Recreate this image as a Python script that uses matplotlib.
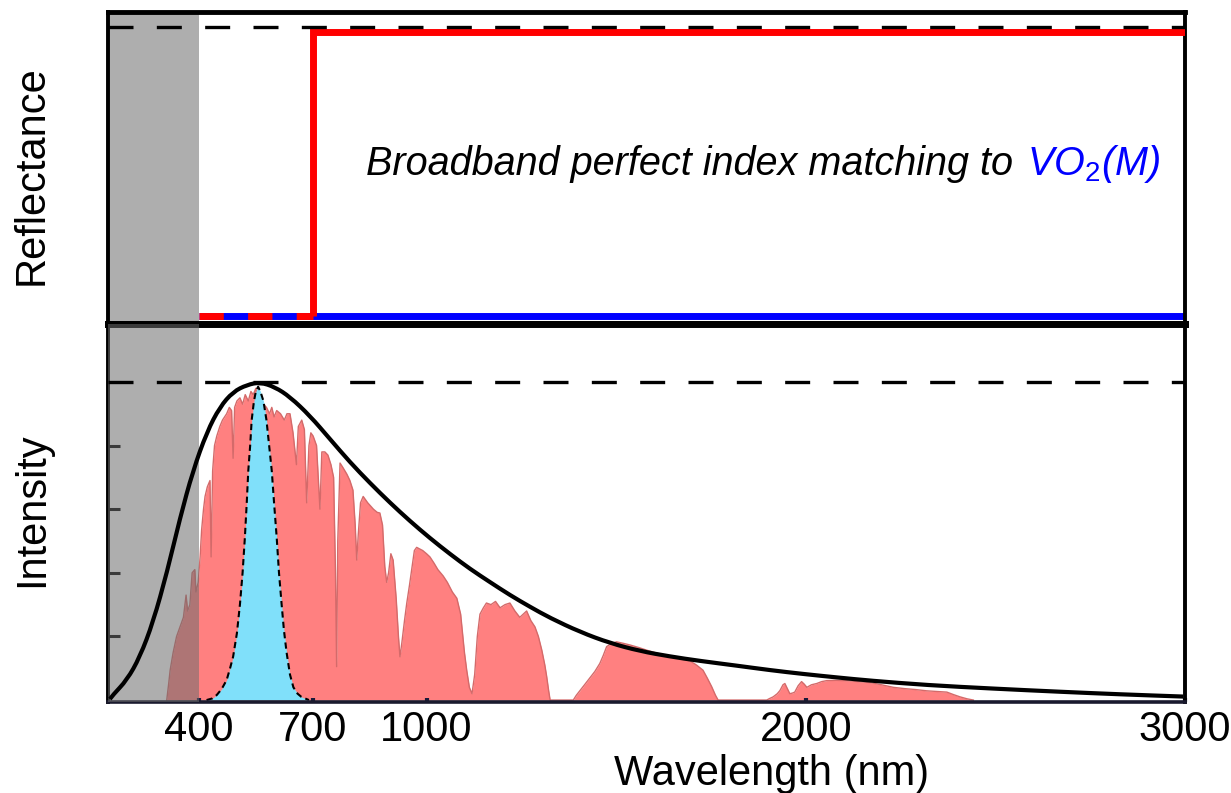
import matplotlib
matplotlib.use('Agg')
import matplotlib.pyplot as plt
from matplotlib.path import Path
from matplotlib.patches import PathPatch

plt.rcParams['font.family'] = ['Liberation Sans', 'DejaVu Sans']
plt.rcParams['mathtext.fontset'] = 'custom'
plt.rcParams['mathtext.rm'] = 'Liberation Sans'
plt.rcParams['mathtext.it'] = 'Liberation Sans:italic'

# wavelength axis (nm)
x_ticks = [400, 700, 1000, 2000, 3000]
uv_edge = 400

# reflectance panel
refl_blue_wl = [400, 3000]
refl_blue = [0.0, 0.0]
refl_red_vis_wl = [400, 700]
refl_red_vis = [0.0, 0.0]
refl_red_wl = [700, 700, 3000]
refl_red = [0.0, 0.985, 0.985]

# blackbody curve (normalised)
bb_wl = [165, 173, 210, 244, 279, 316, 350, 384, 421, 455, 490, 527, 561, 600,
         640, 693, 745, 798, 851, 904, 956, 1009, 1062, 1115, 1167, 1220, 1273,
         1326, 1405, 1484, 1563, 1642, 1721, 1819, 1906, 1993, 2083, 2170, 2320,
         2494, 2671, 2829, 2995]
bb_int = [0.003, 0.016, 0.063, 0.135, 0.245, 0.403, 0.572, 0.720, 0.843, 0.921,
          0.969, 0.991, 0.999, 0.984, 0.953, 0.893, 0.821, 0.748, 0.682, 0.620,
          0.563, 0.509, 0.459, 0.412, 0.371, 0.330, 0.293, 0.258, 0.214, 0.179,
          0.154, 0.137, 0.123, 0.108, 0.094, 0.082, 0.071, 0.061, 0.047, 0.036,
          0.026, 0.018, 0.011]

# solar spectrum (normalised)
sun_wl = [315, 320, 324, 332, 341, 350, 359, 366, 370, 376, 382, 389, 392, 398,
          403, 407, 412, 416, 422, 429, 432, 436, 441, 447, 455, 462, 473, 480,
          486, 490, 494, 500, 508, 515, 522, 530, 537, 543, 550, 556, 563, 570,
          578, 586, 592, 598, 605, 615, 625, 632, 640, 648, 657, 662, 671, 678,
          684, 690, 695, 701, 710, 719, 724, 732, 740, 748, 755, 760, 763, 766,
          772, 780, 790, 798, 806, 812, 816, 820, 826, 833, 845, 860, 870, 877,
          884, 890, 895, 900, 906, 912, 920, 926, 930, 935, 942, 948, 955, 962,
          968, 974, 982, 990, 1000, 1009, 1020, 1030, 1044, 1055, 1068, 1080,
          1090, 1100, 1106, 1113, 1120, 1127, 1134, 1141, 1150, 1158, 1170, 1182,
          1194, 1207, 1220, 1233, 1246, 1255, 1264, 1275, 1286, 1295, 1304, 1312,
          1317, 1322, 1326, 1387, 1395, 1405, 1418, 1431, 1444, 1457, 1466, 1475,
          1488, 1501, 1520, 1537, 1560, 1580, 1600, 1624, 1645, 1668, 1695, 1712,
          1729, 1740, 1752, 1762, 1769, 1897, 1905, 1914, 1925, 1932, 1940, 1945,
          1952, 1958, 1965, 1971, 1980, 1989, 1996, 2003, 2015, 2029, 2042, 2055,
          2080, 2108, 2140, 2169, 2200, 2231, 2260, 2290, 2319, 2345, 2372, 2390,
          2407, 2425, 2442]
sun_int = [0.0, 0.05, 0.094, 0.15, 0.20, 0.23, 0.26, 0.33, 0.28, 0.30, 0.40, 0.41,
           0.34, 0.37, 0.45, 0.535, 0.60, 0.64, 0.67, 0.69, 0.45, 0.72, 0.80, 0.83,
           0.86, 0.88, 0.90, 0.92, 0.91, 0.76, 0.92, 0.94, 0.95, 0.93, 0.96, 0.94,
           0.97, 0.96, 0.98, 0.93, 0.95, 0.93, 0.92, 0.90, 0.92, 0.89, 0.91, 0.90,
           0.88, 0.90, 0.90, 0.84, 0.74, 0.86, 0.88, 0.85, 0.62, 0.80, 0.84, 0.83,
           0.80, 0.60, 0.78, 0.78, 0.77, 0.74, 0.70, 0.40, 0.105, 0.50, 0.745,
           0.73, 0.71, 0.69, 0.66, 0.55, 0.44, 0.52, 0.62, 0.64, 0.62, 0.60, 0.59,
           0.588, 0.55, 0.42, 0.37, 0.40, 0.46, 0.44, 0.32, 0.20, 0.136, 0.18,
           0.25, 0.305, 0.36, 0.42, 0.47, 0.48, 0.475, 0.47, 0.46, 0.45, 0.43,
           0.41, 0.39, 0.37, 0.34, 0.32, 0.27, 0.15, 0.094, 0.04, 0.02, 0.08,
           0.20, 0.27, 0.29, 0.305, 0.30, 0.31, 0.29, 0.30, 0.305, 0.28, 0.26,
           0.27, 0.28, 0.25, 0.23, 0.20, 0.157, 0.11, 0.073, 0.03, 0.0, 0.0,
           0.015, 0.03, 0.05, 0.07, 0.09, 0.115, 0.14, 0.168, 0.178, 0.183, 0.178,
           0.173, 0.165, 0.157, 0.150, 0.142, 0.138, 0.130, 0.123, 0.11, 0.094,
           0.07, 0.042, 0.015, 0.0, 0.0, 0.005, 0.01, 0.02, 0.03, 0.048, 0.052,
           0.035, 0.02, 0.022, 0.025, 0.045, 0.058, 0.05, 0.04, 0.048, 0.052,
           0.058, 0.061, 0.062, 0.061, 0.058, 0.055, 0.048, 0.040, 0.036, 0.033,
           0.029, 0.027, 0.025, 0.017, 0.01, 0.004, 0.0]

# eye sensitivity (photopic)
eye_wl = [420, 435, 447, 460, 473, 482, 490, 500, 508, 515, 521, 526, 530, 535,
          539, 545, 550, 556, 562, 570, 578, 585, 592, 598, 605, 611, 618, 624,
          631, 640, 649, 660, 670, 690]
eye_int = [0.0, 0.005, 0.016, 0.035, 0.063, 0.10, 0.136, 0.21, 0.30, 0.40, 0.51,
           0.62, 0.72, 0.80, 0.88, 0.94, 0.97, 0.985, 0.97, 0.94, 0.88, 0.80,
           0.72, 0.62, 0.51, 0.40, 0.30, 0.22, 0.15, 0.08, 0.04, 0.02, 0.01, 0.0]


def smooth_path(xs, ys):
    # quadratic bezier through the midpoints, read points act as control points
    verts = [(xs[0], ys[0])]
    codes = [Path.MOVETO]
    for i in range(1, len(xs) - 1):
        mid = ((xs[i] + xs[i + 1]) / 2, (ys[i] + ys[i + 1]) / 2)
        verts += [(xs[i], ys[i]), mid]
        codes += [Path.CURVE3, Path.CURVE3]
    verts.append((xs[-1], ys[-1]))
    codes.append(Path.LINETO)
    return Path(verts, codes)


fig = plt.figure(figsize=(12.31, 7.93), dpi=100)
ax1 = fig.add_axes([0.0877, 0.5914, 0.8749, 0.3935])
ax2 = fig.add_axes([0.0877, 0.1148, 0.8749, 0.4766])

gray = '#6c6c6c'

# --- reflectance ---
ax1.axvspan(160, uv_edge, color=gray, alpha=0.55, lw=0, zorder=1)
ax1.axhline(1.0, color='k', lw=2.4, dashes=(7.5, 7), zorder=5)
ax1.plot(refl_blue_wl, refl_blue, color='#0000ff', lw=5, solid_capstyle='butt', zorder=2)
ax1.plot(refl_red_vis_wl, refl_red_vis, color='#ff0000', lw=5, dashes=(3.5, 3.5),
         dash_capstyle='butt', zorder=3)
ax1.plot(refl_red_wl, refl_red, color='#ff0000', lw=5, solid_joinstyle='miter',
         solid_capstyle='butt', zorder=3)
ax1.set_xlim(160, 3000)
ax1.set_ylim(-0.028, 1.053)
ax1.set_xticks([])
ax1.set_yticks([])
ax1.set_ylabel('Reflectance', fontsize=30)
ax1.yaxis.set_label_coords(-0.052, 0.478)

ax1.text(0.840, 0.478, 'Broadband perfect index matching to', transform=ax1.transAxes,
         ha='right', va='baseline', fontsize=28.5, style='italic')
ax1.annotate('VO$_2$(M)', xy=(0.840, 0.478), xycoords='axes fraction',
             xytext=(10, 0), textcoords='offset points', ha='left', va='baseline',
             color='#0000ff', fontsize=28.5, style='italic')

# --- intensity ---
ax2.fill_between(sun_wl, sun_int, color='#ff8080', lw=0, zorder=1)
ax2.plot(sun_wl, sun_int, color='#d46a6a', lw=1, zorder=1.5)
ax2.fill_between(eye_wl, eye_int, color='#80e0fa', lw=0, zorder=2)
ax2.plot(eye_wl, eye_int, color='k', lw=1.5, dashes=(3, 2), zorder=2.5)
ax2.axvspan(160, uv_edge, color=gray, alpha=0.55, lw=0, zorder=3)
ax2.add_patch(PathPatch(smooth_path(bb_wl, bb_int), facecolor='none',
                        edgecolor='k', lw=3, zorder=4))
ax2.axhline(1.0, color='k', lw=2.4, dashes=(7.5, 7), zorder=5)
ax2.set_xlim(160, 3000)
ax2.set_ylim(-0.006, 1.182)
ax2.set_xticks(x_ticks)
ax2.set_yticks([0.2, 0.4, 0.6, 0.8, 1.0])
ax2.tick_params(axis='y', direction='in', length=8.5, width=2.2, labelleft=False)
ax2.tick_params(axis='x', direction='in', length=3, width=3, pad=6, labelsize=30,
                color='#1a1a3a')
ax2.set_ylabel('Intensity', fontsize=30)
ax2.yaxis.set_label_coords(-0.052, 0.508)

for side, w in [('top', 3.5), ('left', 2.8), ('right', 2.8), ('bottom', 5)]:
    ax1.spines[side].set_linewidth(w)
for side, w in [('top', 5), ('left', 2.8), ('right', 2.8), ('bottom', 2.6)]:
    ax2.spines[side].set_linewidth(w)
ax2.spines['bottom'].set_color('#1a1a2e')

fig.text(772 / 1231, 1 - 785 / 793, 'Wavelength (nm)', ha='center', va='baseline',
         fontsize=30)

fig.savefig('out.png', dpi=100)
